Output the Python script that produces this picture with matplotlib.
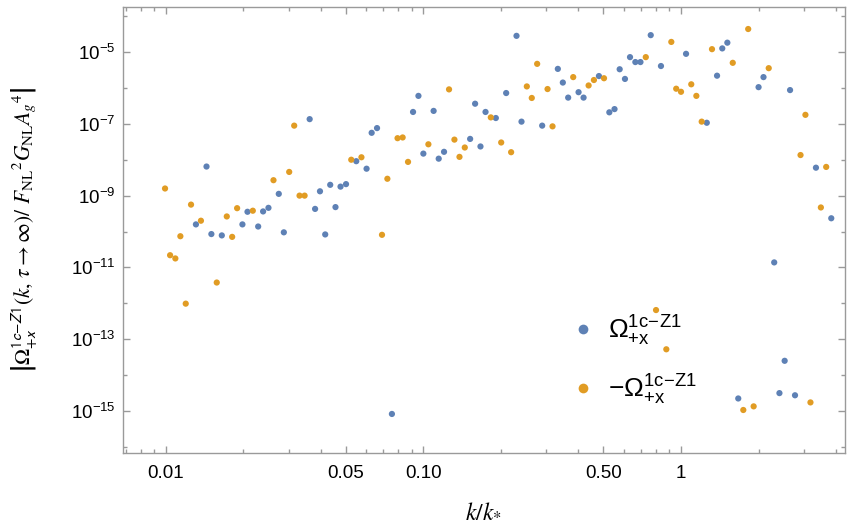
import matplotlib
matplotlib.use("Agg")
import matplotlib.pyplot as plt
from matplotlib.lines import Line2D
from matplotlib.ticker import FixedLocator, NullFormatter, FixedFormatter

plt.rcParams['font.family'] = ['Liberation Sans', 'DejaVu Sans']
plt.rcParams['mathtext.fontset'] = 'custom'
plt.rcParams['mathtext.rm'] = 'Liberation Sans'
plt.rcParams['mathtext.it'] = 'Liberation Sans:italic'
plt.rcParams['mathtext.sf'] = 'Liberation Sans'

BLUE = '#5E81B5'
ORANGE = '#E19C24'
FRAME = '#9a9a9a'

# positive values (Omega)
pos_k = [0.0131, 0.0144, 0.01504, 0.01651, 0.01985, 0.02077, 0.02285, 0.02388, 0.02505, 0.02747,
         0.02874, 0.0362, 0.0380, 0.0397, 0.0416, 0.0435, 0.0456, 0.0477, 0.0501, 0.0549,
         0.0602, 0.0630, 0.0661, 0.0755, 0.0912, 0.0957, 0.1000, 0.1096, 0.1147, 0.1203,
         0.1519, 0.1588, 0.1666, 0.1743, 0.1911, 0.2096, 0.2299, 0.2404, 0.2892, 0.3326,
         0.3478, 0.3648, 0.4003, 0.4186, 0.4802, 0.527, 0.552, 0.578, 0.606, 0.634,
         0.665, 0.696, 0.763, 0.836, 1.046, 1.259, 1.380, 1.446, 1.513, 1.668,
         2.0, 2.09, 2.30, 2.41, 2.525, 2.65, 2.77, 3.34, 3.83]
pos_val = [1.58e-10, 6.46e-9, 8.5e-11, 7.8e-11, 1.58e-10, 3.55e-10, 1.38e-10, 3.63e-10, 4.57e-10, 1.12e-9,
           9.5e-11, 1.35e-7, 4.27e-10, 1.32e-9, 8.3e-11, 2.0e-9, 4.79e-10, 1.78e-9, 2.09e-9, 9.1e-9,
           5.62e-9, 5.62e-8, 7.6e-8, 8.3e-16, 2.14e-7, 6.0e-7, 1.48e-8, 2.29e-7, 1.07e-8, 1.66e-8,
           3.8e-8, 3.63e-7, 2.34e-8, 2.14e-7, 1.45e-7, 7.2e-7, 2.82e-5, 1.15e-7, 8.9e-8, 3.39e-6,
           1.41e-6, 5.37e-7, 7.6e-7, 5.37e-7, 2.14e-6, 2.09e-7, 2.57e-7, 3.31e-6, 1.78e-6, 7.2e-6,
           5.25e-6, 5.25e-6, 2.95e-5, 4.07e-6, 8.9e-6, 1.07e-7, 2.19e-6, 1.26e-5, 1.82e-5, 2.24e-15,
           1.05e-6, 2.0e-6, 1.38e-11, 3.16e-15, 2.51e-14, 8.7e-7, 2.75e-15, 6.0e-9, 2.34e-10]

# negative values (-Omega), plotted as magnitude
neg_k = [0.00994, 0.0104, 0.0109, 0.0114, 0.01196, 0.01254, 0.0137, 0.01578, 0.01726, 0.01811,
         0.01893, 0.02178, 0.02620, 0.03015, 0.03153, 0.03307, 0.0346, 0.0525, 0.0575, 0.0691,
         0.0725, 0.0794, 0.0831, 0.0872, 0.1046, 0.1258, 0.1320, 0.1381, 0.1448, 0.1827,
         0.2005, 0.2191, 0.2521, 0.2635, 0.2765, 0.3034, 0.3172, 0.3816, 0.4379, 0.4592,
         0.5025, 0.730, 0.80, 0.877, 0.917, 0.958, 1.0, 1.096, 1.147, 1.203,
         1.319, 1.588, 1.745, 1.823, 1.914, 2.19, 2.91, 3.04, 3.18, 3.49, 3.66]
neg_val = [1.58e-9, 2.19e-11, 1.78e-11, 7.4e-11, 9.8e-13, 5.62e-10, 2.0e-10, 3.8e-12, 2.63e-10, 7.1e-11,
           4.47e-10, 3.8e-10, 2.69e-9, 4.57e-9, 8.9e-8, 1.0e-9, 1.0e-9, 1.0e-8, 1.17e-8, 8.1e-11,
           2.95e-9, 3.98e-8, 4.17e-8, 8.7e-9, 2.69e-8, 9.1e-7, 3.63e-8, 1.2e-8, 2.19e-8, 1.51e-7,
           3.02e-8, 1.62e-8, 1.1e-6, 5.25e-7, 4.68e-6, 9.3e-7, 8.5e-8, 2.0e-6, 1.17e-6, 1.66e-6,
           1.86e-6, 7.2e-6, 6.5e-13, 5.25e-14, 1.91e-5, 9.5e-7, 7.8e-7, 1.26e-6, 6.0e-7, 1.15e-7,
           1.2e-5, 5.0e-6, 1.07e-15, 4.37e-5, 1.35e-15, 3.55e-6, 1.35e-8, 1.78e-7, 1.74e-15, 4.68e-10, 6.3e-9]

x_major = [0.01, 0.05, 0.1, 0.5, 1]
x_major_labels = ['0.01', '0.05', '0.10', '0.50', '1']
x_minor = [0.007, 0.008, 0.009, 0.02, 0.03, 0.04, 0.06, 0.07, 0.08, 0.09,
           0.2, 0.3, 0.4, 0.6, 0.7, 0.8, 0.9, 2, 3, 4]
y_major = [1e-5, 1e-7, 1e-9, 1e-11, 1e-13, 1e-15]
y_major_labels = [r'$10^{-5}$', r'$10^{-7}$', r'$10^{-9}$', r'$10^{-11}$', r'$10^{-13}$', r'$10^{-15}$']
y_minor = [1e-4, 1e-6, 1e-8, 1e-10, 1e-12, 1e-14, 1e-16]

legend_labels = [r'$\Omega_{+\mathrm{x}}^{\mathrm{1c}\!-\!\mathrm{Z1}}$',
                 r'$-\Omega_{+\mathrm{x}}^{\mathrm{1c}\!-\!\mathrm{Z1}}$']

fig = plt.figure(figsize=(8.55, 5.29), dpi=100)
ax = fig.add_axes([122.7 / 855, 1 - 452.7 / 529, (845 - 122.7) / 855, (452.7 - 6.7) / 529])

ax.scatter(pos_k, pos_val, s=20, color=BLUE, edgecolors='none', zorder=3)
ax.scatter(neg_k, neg_val, s=20, color=ORANGE, edgecolors='none', zorder=3)

ax.set_xscale('log')
ax.set_yscale('log')
ax.set_xlim(0.006809, 4.33)
ax.set_ylim(10 ** -16.16, 10 ** -3.738)

ax.xaxis.set_major_locator(FixedLocator(x_major))
ax.xaxis.set_major_formatter(FixedFormatter(x_major_labels))
ax.xaxis.set_minor_locator(FixedLocator(x_minor))
ax.xaxis.set_minor_formatter(NullFormatter())
ax.yaxis.set_major_locator(FixedLocator(y_major))
ax.yaxis.set_major_formatter(FixedFormatter(y_major_labels))
ax.yaxis.set_minor_locator(FixedLocator(y_minor))
ax.yaxis.set_minor_formatter(NullFormatter())

ax.tick_params(which='both', direction='in', top=True, right=True, color=FRAME, width=1.0,
               labelsize=13.5, labelcolor='black')
ax.tick_params(which='major', length=5)
ax.tick_params(which='minor', length=3)
ax.tick_params(axis='x', which='major', pad=9)
ax.tick_params(axis='y', which='major', pad=5)
for sp in ax.spines.values():
    sp.set_color(FRAME)
    sp.set_linewidth(1.0)

ax.set_xlabel(r'$k/k_{*}$', fontsize=17, math_fontfamily='stix', labelpad=13)
ylab = (r'$\left|\Omega^{\mathsf{1c\!-\!Z1}}_{\mathsf{+x}}(k,\,\tau\rightarrow\infty)/\ '
        r'F_{\mathrm{NL}}{}^{2}G_{\mathrm{NL}}A_{g}{}^{4}\right|$')
ax.set_ylabel(ylab, fontsize=15.5, math_fontfamily='stix', labelpad=22)

handles = [Line2D([], [], marker='o', linestyle='none', color=BLUE, markersize=7, markeredgewidth=0),
           Line2D([], [], marker='o', linestyle='none', color=ORANGE, markersize=7, markeredgewidth=0)]
leg = ax.legend(handles, legend_labels, loc='center left', bbox_to_anchor=(0.601, 0.207),
                frameon=False, fontsize=19, labelspacing=0.95, handlelength=1.0, handletextpad=0.45,
                borderpad=0)

fig.savefig('out.png', dpi=100)
